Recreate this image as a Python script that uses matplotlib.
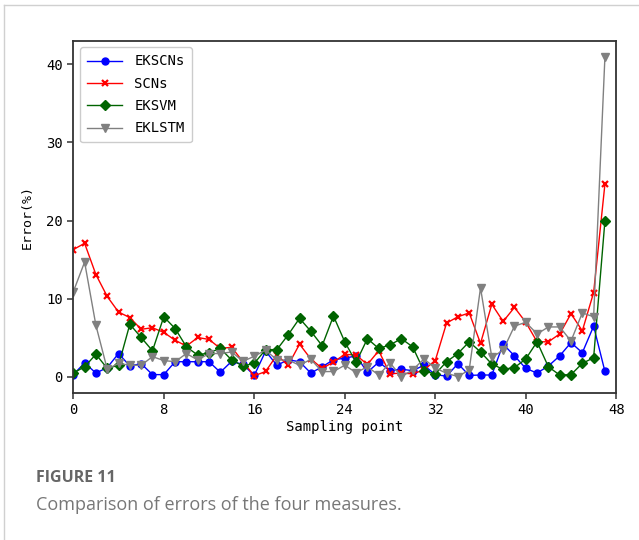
import numpy as np
import matplotlib
matplotlib.use('Agg')
import matplotlib.pyplot as plt
from matplotlib.lines import Line2D

# error values (%), one per sampling point 0..47
ekscns = [0.3, 1.8, 0.5, 1.2, 3.0, 1.4, 1.7, 0.3, 0.3, 1.95, 1.95, 1.95, 1.95, 0.6, 2.0, 1.6,
          0.2, 3.3, 1.5, 2.2, 1.95, 0.5, 1.3, 2.2, 2.4, 2.7, 0.6, 1.9, 0.8, 1.0, 0.8, 1.5,
          0.3, 0.1, 1.7, 0.2, 0.25, 0.25, 4.2, 2.7, 1.1, 0.5, 1.4, 2.7, 4.4, 3.1, 6.5, 0.7]
scns = [16.3, 17.1, 13.1, 10.3, 8.3, 7.6, 6.1, 6.3, 5.7, 4.7, 3.95, 5.05, 4.8, 3.65, 3.8, 1.95,
        0.15, 0.7, 2.8, 1.5, 4.2, 2.3, 1.1, 1.9, 2.9, 2.8, 1.6, 3.35, 0.4, 0.5, 0.4, 0.9,
        2.1, 6.9, 7.7, 8.2, 4.3, 9.3, 7.1, 8.9, 7.0, 4.5, 4.5, 5.5, 8.1, 5.9, 10.8, 24.7]
eksvm = [0.5, 1.3, 2.9, 1.1, 1.5, 6.75, 5.05, 3.35, 7.7, 6.2, 3.86, 2.8, 3.1, 3.65, 2.17, 1.4,
         1.74, 3.5, 3.5, 5.4, 7.5, 5.85, 4.0, 7.8, 4.5, 1.87, 4.9, 3.65, 4.1, 4.9, 3.86, 0.76,
         0.38, 1.95, 3.0, 4.5, 3.2, 1.65, 0.98, 1.2, 2.3, 4.5, 1.3, 0.25, 0.3, 1.74, 2.46, 20.0]
eklstm = [10.9, 14.7, 6.6, 1.0, 1.74, 1.5, 1.5, 2.6, 2.1, 1.95, 3.0, 2.17, 3.0, 3.0, 3.2, 2.0,
          2.65, 3.44, 2.17, 2.17, 1.5, 2.25, 0.68, 0.7, 1.5, 0.55, 1.3, 0.25, 1.8, 0.05, 0.9, 2.3,
          1.15, 0.47, 0.05, 0.9, 11.4, 2.5, 3.44, 6.5, 7.0, 5.5, 6.4, 6.4, 4.6, 8.2, 7.7, 41.0]
x_ticks = [0, 8, 16, 24, 32, 40, 48]
y_ticks = [0, 10, 20, 30, 40]

points = np.arange(len(ekscns))
mono = 'DejaVu Sans Mono'

fig = plt.figure(figsize=(6.39, 5.4), dpi=100)
ax = fig.add_axes([0.1147, 0.273, 0.8497, 0.652])

ax.plot(points, ekscns, color='#0000ff', lw=1, marker='o', ms=5, label='EKSCNs')
ax.plot(points, scns, color='#ff0000', lw=1, marker='x', ms=4, mew=1.6, label='SCNs')
ax.plot(points, eksvm, color='#006400', lw=1, marker='D', ms=5, label='EKSVM')
ax.plot(points, eklstm, color='#808080', lw=1, marker='v', ms=6, label='EKLSTM')

ax.set_xlim(0, 48)
ax.set_xticks(x_ticks)
ax.set_yticks(y_ticks)
for s in ax.spines.values():
    s.set_color('#333333')
    s.set_linewidth(1.3)
ax.tick_params(colors='#333333', labelcolor='black', width=1.1, length=4, labelsize=10)
for lab in ax.get_xticklabels() + ax.get_yticklabels():
    lab.set_fontfamily(mono)

ax.set_xlabel('Sampling point', fontfamily=mono, fontsize=10, labelpad=2)
ax.set_ylabel('Error(%)', fontfamily=mono, fontsize=9.5, labelpad=9)

leg = ax.legend(loc='upper left', prop={'family': mono, 'size': 10}, handlelength=2.5,
                borderpad=0.5, labelspacing=0.6, handletextpad=0.9, framealpha=1)
leg.get_frame().set_edgecolor('#cccccc')

# page frame and caption
fig.add_artist(Line2D([0.007, 0.007], [0, 0.991], color='#d0d0d0', lw=1))
fig.add_artist(Line2D([0.007, 1.0], [0.991, 0.991], color='#d0d0d0', lw=1))
fig.text(0.057, 0.107, 'FIGURE 11', fontfamily='Open Sans', fontweight='bold', fontsize=11.5,
         color='#666666')
fig.text(0.057, 0.056, 'Comparison of errors of the four measures.', fontfamily='Open Sans',
         fontsize=13, color='#777777')

fig.savefig('out.png', dpi=100)
